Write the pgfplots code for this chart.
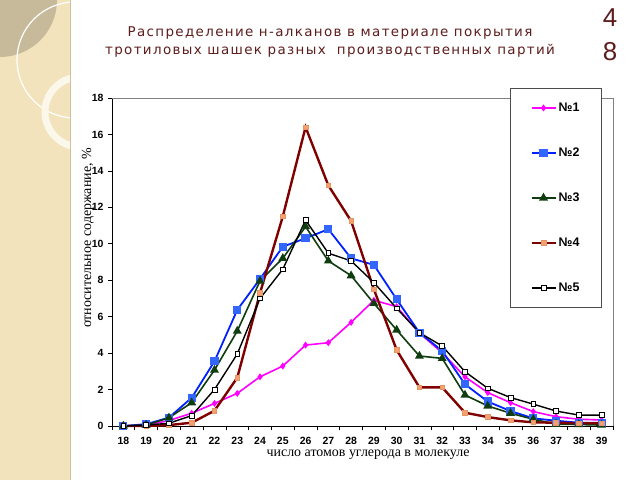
\documentclass[border=0pt]{standalone}
\usepackage{fontspec}
\usepackage{pgfplots}
\usepackage{pgfplotstable}
\pgfplotsset{compat=1.18}
\setmainfont{Liberation Serif}
\setsansfont{Liberation Sans}
\newfontfamily\titlefont[LetterSpace=10]{DejaVu Sans}
\definecolor{maroon}{HTML}{5E1C1C}
\definecolor{panel}{HTML}{F2E3BC}
\definecolor{c1}{HTML}{FF00FF}
\definecolor{c2}{HTML}{0022FF}
\definecolor{c2m}{HTML}{3366FF}
\definecolor{c3}{HTML}{0F3D0F}
\definecolor{c4}{HTML}{800000}
\definecolor{c4m}{HTML}{F4A070}

\pgfplotstableread{
n   s1    s2    s3    s4    s5
18  0     0     0     0     0
19  0.05  0.10  0.05  0     0.05
20  0.30  0.46  0.45  0.05  0.15
21  0.70  1.55  1.28  0.18  0.57
22  1.24  3.55  3.07  0.84  2.00
23  1.79  6.37  5.21  2.65  3.95
24  2.70  8.07  7.96  7.30  7.00
25  3.29  9.84  9.20  11.50 8.60
26  4.44  10.30 10.94 16.40 11.30
27  4.57  10.80 9.06  13.20 9.48
28  5.69  9.20  8.25  11.25 9.06
29  6.90  8.84  6.73  7.50  7.87
30  6.55  6.95  5.27  4.17  6.46
31  5.10  5.12  3.84  2.12  5.12
32  4.02  4.12  3.71  2.12  4.39
33  2.70  2.29  1.70  0.73  2.98
34  1.83  1.34  1.10  0.49  2.07
35  1.28  0.82  0.70  0.31  1.56
36  0.79  0.42  0.37  0.20  1.20
37  0.51  0.29  0.10  0.18  0.82
38  0.37  0.18  0.08  0.15  0.60
39  0.33  0.18  0.05  0.15  0.60
}\alkanes

\begin{document}
\begin{tikzpicture}[x=1bp,y=1bp]
\useasboundingbox (0,0) rectangle (640,480);
\fill[white] (0,0) rectangle (640,480);
% left decorative band
\begin{scope}
  \clip (0,0) rectangle (70,480);
  \fill[panel] (0,0) rectangle (70,480);
  \fill[black!18!panel] (0,480) circle (57);
  \draw[white, line width=1.2bp] (75,420) circle (58);
  \draw[white!70!panel, line width=7bp] (80,368) circle (35);
\end{scope}
\draw[black!15!panel] (70,0) -- (70,480);
% title and slide number
\node[font=\titlefont\fontsize{13.5}{19}\selectfont, text=maroon, align=center]
  at (330,438) {Распределение н-алканов в материале покрытия\\
  тротиловых шашек разных\ \ производственных партий};
\node[font=\sffamily\fontsize{26}{30}\selectfont, text=maroon] at (610,462) {4};
\node[font=\sffamily\fontsize{26}{30}\selectfont, text=maroon] at (610,428) {8};

\begin{axis}[
  at={(112bp,54bp)}, anchor=south west,
  scale only axis, width=501bp, height=328bp,
  xmin=17.5, xmax=39.5, ymin=0, ymax=18,
  axis lines*=left,
  axis line style={black, line width=0.8bp},
  xtick={18,...,39}, major x tick style={draw=none},
  minor xtick={17.5,18.5,...,39.5},
  ytick={0,2,...,18},
  tick align=outside,
  major tick length=4bp, minor tick length=4bp,
  tick style={black, line width=0.6bp},
  tick label style={font=\sffamily\bfseries\fontsize{10.5}{11}\selectfont},
  /pgf/number format/assume math mode=true,
  xticklabel style={yshift=-4bp},
  yticklabel style={xshift=-1bp},
  xlabel={число атомов углерода в молекуле},
  ylabel={относительное содержание, \%},
  xlabel style={font=\fontsize{14}{15}\selectfont, at={(axis description cs:0.511,-0.088)}, anchor=center},
  ylabel style={font=\fontsize{14}{15}\selectfont, at={(axis description cs:-0.048,0.573)}, anchor=center, rotate=0},
  legend style={at={(axis description cs:0.886,1.03)}, anchor=north,
    draw=black!70, line width=0.6bp, fill=white,
    font=\sffamily\bfseries\fontsize{12.5}{13}\selectfont,
    inner xsep=20bp, inner ysep=12bp, row sep=30bp,
    nodes={text height=9bp, text depth=2bp}},
  legend cell align=left,
  legend image code/.code={\draw[mark repeat=2,mark phase=2] plot coordinates {(0bp,0bp) (12bp,0bp) (24bp,0bp)};},
  clip=false,
]
\addplot[c1, line width=1.6bp, mark=diamond*, mark size=2.2bp, mark options={fill=c1, draw=c1}] table[x=n, y=s1] {\alkanes};
\addlegendentry{№1}
\addplot[c2, line width=1.8bp, mark=square*, mark size=3.2bp, mark options={fill=c2m, draw=c2m}] table[x=n, y=s2] {\alkanes};
\addlegendentry{№2}
\addplot[c3, line width=1.6bp, mark=triangle*, mark size=3.6bp, mark options={fill=c3, draw=c3}] table[x=n, y=s3] {\alkanes};
\addlegendentry{№3}
\addplot[c4, line width=2.4bp, mark=square*, mark size=2.3bp, mark options={fill=c4m, draw=c4m!70!brown, line width=0.6bp}] table[x=n, y=s4] {\alkanes};
\addlegendentry{№4}
\addplot[black, line width=1.4bp, mark=square*, mark size=2.4bp, mark options={fill=white, draw=black, line width=0.7bp}] table[x=n, y=s5] {\alkanes};
\addlegendentry{№5}
\draw[black!50, line width=0.6bp] (rel axis cs:0,1) -- (rel axis cs:1,1) -- (rel axis cs:1,0);
\end{axis}
\end{tikzpicture}
\end{document}
